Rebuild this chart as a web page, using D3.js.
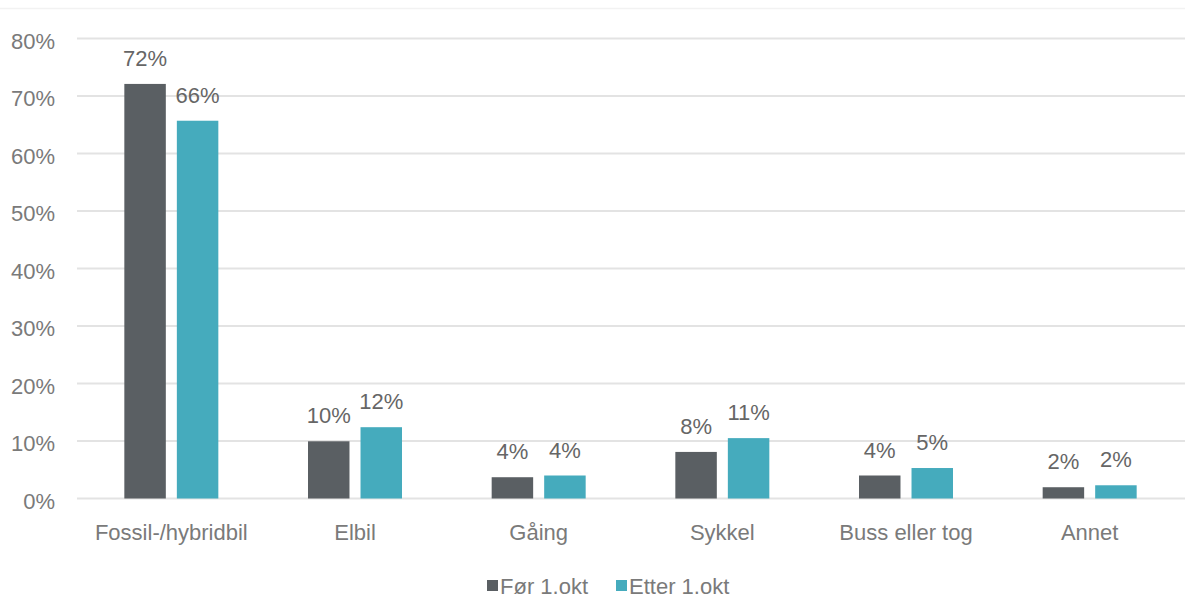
<!DOCTYPE html>
<html><head><meta charset="utf-8">
<script src="https://cdn.jsdelivr.net/npm/d3@7"></script>
<style>body{margin:0;background:#fff;}svg{display:block;font-family:"Liberation Sans",Arial,sans-serif;}</style>
</head><body><div id="chart"></div>
<script>
const categories = ["Fossil-/hybridbil","Elbil","Gåing","Sykkel","Buss eller tog","Annet"];
const seriesNames = ["Før 1.okt","Etter 1.okt"];
const before = [72.1, 9.95, 3.7, 8.1, 4.0, 1.96];
const after = [65.7, 12.4, 4.0, 10.5, 5.3, 2.3];
const beforeLabels = ["72%","10%","4%","8%","4%","2%"];
const afterLabels = ["66%","12%","4%","11%","5%","2%"];
const yTicks = [0,10,20,30,40,50,60,70,80];
const colors = ["#5a5f63","#45abbd"];

const W = 1185, H = 598;
const FS = 22;
const svg = d3.select("#chart").append("svg").attr("width", W).attr("height", H);

const x = d3.scaleBand().domain(categories).range([79.5, 1181.5]).paddingInner(0).paddingOuter(0);
const GW = 94;
const xs = d3.scaleBand().domain([0,1]).range([0, GW]).paddingInner(0.21);
const y = d3.scaleLinear().domain([0, 80]).range([498.5, 38.5]);

// faint top border
svg.append("line").attr("x1",0).attr("x2",W).attr("y1",8.5).attr("y2",8.5)
  .attr("stroke","#f2f2f2").attr("stroke-width",1.5);

// gridlines
svg.append("g").selectAll("line").data(yTicks).join("line")
  .attr("x1",77).attr("x2",W).attr("y1",d=>y(d)).attr("y2",d=>y(d))
  .attr("stroke","#e3e3e3").attr("stroke-width",2);

// y axis labels
const yAxis = d3.axisLeft(y).tickValues(yTicks).tickFormat(d=>d+"%").tickSize(0).tickPadding(0);
const ya = svg.append("g").attr("transform","translate(55,2)").call(yAxis);
ya.select(".domain").remove();
ya.selectAll("text").attr("font-size",FS).attr("fill","#7a7a7a").attr("font-family","Liberation Sans, Arial, sans-serif").attr("dy","0.35em");

const series = [before, after];
const labels = [beforeLabels, afterLabels];
series.forEach((vals, si) => {
  const g = svg.append("g");
  g.selectAll("rect").data(categories).join("rect")
    .attr("x", c => x(c) + (x.bandwidth()-GW)/2 + xs(si))
    .attr("width", xs.bandwidth())
    .attr("y", (c,i) => y(vals[i]))
    .attr("height", (c,i) => y(0) - y(vals[i]))
    .attr("fill", colors[si]);
  g.selectAll("text").data(categories).join("text")
    .attr("x", c => x(c) + (x.bandwidth()-GW)/2 + xs(si) + xs.bandwidth()/2)
    .attr("y", (c,i) => y(vals[i]) - 18)
    .attr("text-anchor","middle").attr("font-size",FS).attr("fill","#666")
    .text((c,i) => labels[si][i]);
});

// x axis labels
const xAxis = d3.axisBottom(x).tickSize(0).tickPadding(0);
const xa = svg.append("g").attr("transform","translate(0,540)").call(xAxis);
xa.select(".domain").remove();
xa.selectAll("text").attr("font-size",FS).attr("fill","#7a7a7a").attr("font-family","Liberation Sans, Arial, sans-serif").attr("dy","0");

// legend
const legendX = [487, 616];
const leg = svg.append("g");
seriesNames.forEach((n, i) => {
  leg.append("rect").attr("x", legendX[i]).attr("y", 580).attr("width", 11).attr("height", 11).attr("fill", colors[i]);
  leg.append("text").attr("x", legendX[i] + 13).attr("y", 594).attr("font-size",FS).attr("fill","#7a7a7a").text(n);
});
</script></body></html>
